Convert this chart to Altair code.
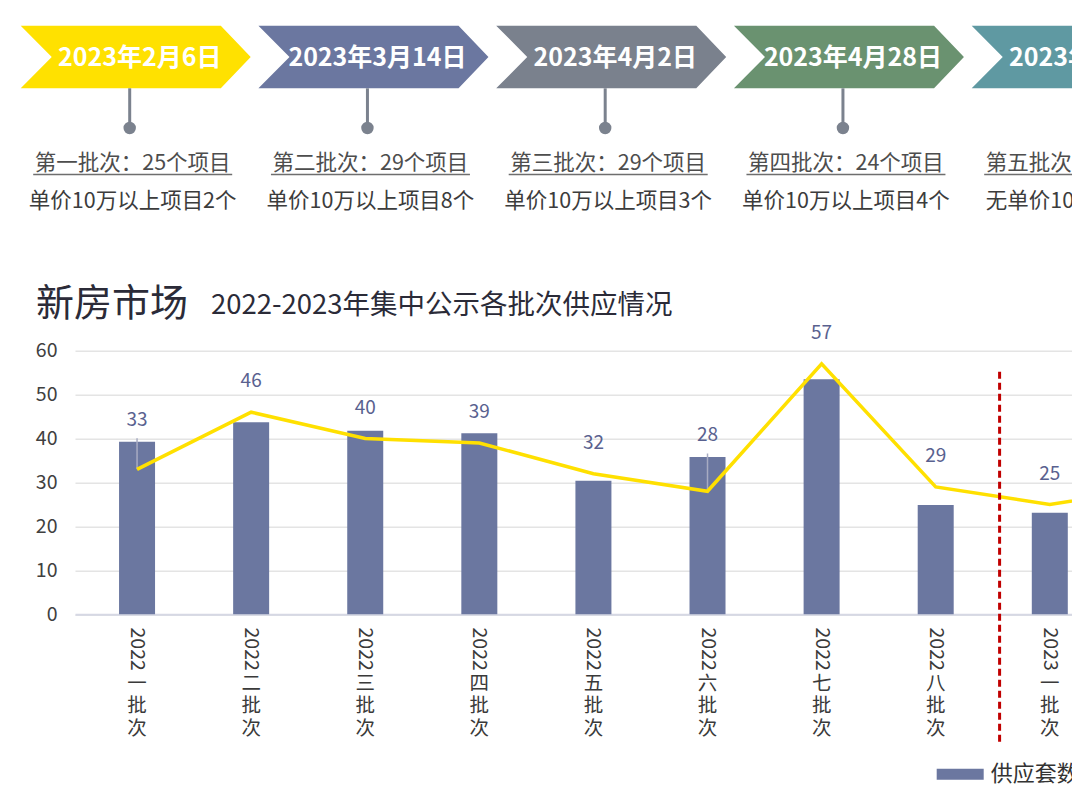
import altair as alt
import pandas as pd

# ---------------- data ----------------
categories = ["2022一批次", "2022二批次", "2022三批次", "2022四批次", "2022五批次",
              "2022六批次", "2022七批次", "2022八批次", "2023一批次", "2023二批次"]
supply_values = [39.3, 43.7, 41.8, 41.2, 30.4, 35.8, 53.5, 24.9, 23.1, None]
project_counts = [33, 46, 40, 39, 32, 28, 57, 29, 25, 29]
bar_series_name = "供应套数"
y_ticks = [0, 10, 20, 30, 40, 50, 60]

title_main = "新房市场"
title_sub = "2022-2023年集中公示各批次供应情况"

tl_dates = ["2023年2月6日", "2023年3月14日", "2023年4月2日", "2023年4月28日", "2023年5月9日"]
tl_counts = ["第一批次：25个项目", "第二批次：29个项目", "第三批次：29个项目",
             "第四批次：24个项目", "第五批次：15个项目"]
tl_notes = ["单价10万以上项目2个", "单价10万以上项目8个", "单价10万以上项目3个",
            "单价10万以上项目4个", "无单价10万以上项目"]

divider_position = 7.56

# ---------------- styles ----------------
FONT = "Noto Sans CJK SC"
BAR_COLOR = "#6B77A0"
LINE_COLOR = "#FFE000"
LABEL_COLOR = "#59618F"
TL_COLORS = ["#FFE100", "#6B77A0", "#7A818D", "#6A9270", "#5F99A2"]
STEM_COLOR = "#7B828E"
W, H = 997, 263.6
STEP_MAIN = 115.25
STEP_TL = 237.75
TOP = 350.7  # page y of plot top (used to place decorative rows)
CHEVRON = "M-1,-0.272L0.74,-0.272L1,0L0.74,0.272L-1,0.272L-0.73,0Z"

main_df = pd.DataFrame({
    "cat": categories,
    "i": list(range(len(categories))),
    "bar": supply_values,
    "line": project_counts,
})
main_df["series"] = bar_series_name
main_df["year"] = main_df["cat"].str[:4]
main_df["batch"] = main_df["cat"].str[4:].apply(lambda s: "\n".join(list(s)))

tl_df = pd.DataFrame({"i": list(range(len(tl_dates))), "date": tl_dates,
                      "count": tl_counts, "note": tl_notes})

X_MAIN = alt.Scale(domain=[-0.5, -0.5 + W / STEP_MAIN], nice=False, zero=False)
Y_MAIN = alt.Scale(domain=[0, 60], nice=False, zero=False)
x_axis = alt.Axis(labels=False, ticks=False, grid=False, title=None,
                  domainColor="#D6D8E4", domainWidth=2)
y_axis = alt.Axis(values=y_ticks, domain=False, ticks=False, title=None,
                  labelFontSize=19.5, labelColor="#404040", labelPadding=18,
                  gridColor="#E4E4E4", gridWidth=1.5, labelFont=FONT)
x_enc = alt.X("i:Q", scale=X_MAIN, axis=x_axis)

bars = alt.Chart(main_df).mark_bar(size=36).encode(
    x=x_enc,
    y=alt.Y("bar:Q", scale=Y_MAIN, axis=y_axis),
    color=alt.Color("series:N",
                    scale=alt.Scale(domain=[bar_series_name], range=[BAR_COLOR]),
                    legend=alt.Legend(title=None, orient="none", legendX=861.7, legendY=400,
                                      symbolType="M-1,-0.234L1,-0.234L1,0.234L-1,0.234Z",
                                      symbolSize=2209, symbolStrokeWidth=0,
                                      labelFontSize=22, labelColor="#333333",
                                      labelOffset=7, padding=0, labelFont=FONT)),
)

labeled = alt.Chart(main_df).transform_calculate(
    lifted="isValid(datum.bar) && datum.bar - datum.line > 3"
).transform_calculate(
    label_y="datum.lifted ? datum.bar + 5 : datum.line + 7"
).transform_calculate(
    lead_top="datum.label_y - 4.2"
)

leaders = labeled.transform_filter("datum.lifted").mark_rule(
    color="#A7ABC2", strokeWidth=1.5).encode(
    x=x_enc, y=alt.Y("line:Q", scale=Y_MAIN, axis=y_axis), y2="lead_top:Q")

line = alt.Chart(main_df).mark_line(color=LINE_COLOR, strokeWidth=3.5).encode(
    x=x_enc, y=alt.Y("line:Q", scale=Y_MAIN, axis=y_axis))

labels = labeled.mark_text(fontSize=19, color=LABEL_COLOR, baseline="middle").encode(
    x=x_enc, y=alt.Y("label_y:Q", scale=Y_MAIN, axis=y_axis), text="line:Q")

xyear = alt.Chart(main_df).mark_text(angle=90, align="left", baseline="middle",
                                     fontSize=19.5, color="#3A3A3A").encode(
    x=x_enc, y=alt.value(H + 13.2), text="year:N")

xbatch = alt.Chart(main_df).mark_text(lineBreak="\n", lineHeight=22.5, align="center",
                                      baseline="middle", fontSize=19.5,
                                      color="#3A3A3A").encode(
    x=x_enc, y=alt.value(H + 69.5), text="batch:N")

divider = alt.Chart(pd.DataFrame({"pos": [divider_position]})).mark_rule(
    color="#C00000", strokeWidth=3, strokeDash=[7, 4]).encode(
    x=alt.X("pos:Q", scale=X_MAIN, axis=x_axis),
    y=alt.value(371.7 - TOP), y2=alt.value(741.7 - TOP))

main = alt.layer(bars, leaders, line, labels, divider, xyear, xbatch)

# ---------------- timeline ----------------
X_TL = alt.Scale(domain=[-0.2553, -0.2553 + W / STEP_TL], nice=False, zero=False)
x_tl = alt.X("i:Q", scale=X_TL, axis=None)

chevrons = alt.Chart(tl_df).mark_point(shape=CHEVRON, size=52900, filled=True,
                                       opacity=1, strokeWidth=0).encode(
    x=x_tl, y=alt.value(57 - TOP),
    fill=alt.Fill("date:N", scale=alt.Scale(domain=tl_dates, range=TL_COLORS), legend=None))

dates = alt.Chart(tl_df).mark_text(color="white", fontSize=25, fontWeight="bold",
                                   dx=4, baseline="middle").encode(
    x=x_tl, y=alt.value(58 - TOP), text="date:N")

stems = alt.Chart(tl_df).mark_rule(color=STEM_COLOR, strokeWidth=3, xOffset=-6).encode(
    x=x_tl, y=alt.value(88.3 - TOP), y2=alt.value(128 - TOP))

dots = alt.Chart(tl_df).mark_circle(color=STEM_COLOR, size=154, opacity=1, xOffset=-6).encode(
    x=x_tl, y=alt.value(128 - TOP))

counts = alt.Chart(tl_df).mark_text(fontSize=21.5, color="#4D4D4D", dx=-3,
                                    baseline="middle").encode(
    x=x_tl, y=alt.value(164 - TOP), text="count:N")

underline = alt.Chart(tl_df).mark_rule(color="#6E6E6E", strokeWidth=1.5,
                                       xOffset=-102.5, x2Offset=96.5).encode(
    x=x_tl, x2="i:Q", y=alt.value(174.5 - TOP))

notes = alt.Chart(tl_df).mark_text(fontSize=21.5, color="#3C3C3C", dx=-3,
                                   baseline="middle").encode(
    x=x_tl, y=alt.value(202 - TOP), text="note:N")

timeline = alt.layer(chevrons, dates, stems, dots, counts, underline, notes)

# ---------------- header ----------------
head = alt.Chart(pd.DataFrame({"t": [title_main]})).mark_text(
    align="left", baseline="alphabetic", fontSize=38, color="#2B2B38").encode(
    x=alt.value(36 - 75), y=alt.value(316 - TOP), text="t:N")
sub = alt.Chart(pd.DataFrame({"t": [title_sub]})).mark_text(
    align="left", baseline="alphabetic", fontSize=27.5, color="#2B2B38").encode(
    x=alt.value(211 - 75), y=alt.value(314 - TOP), text="t:N")
header = alt.layer(head, sub)

chart = alt.layer(main, timeline, header).resolve_scale(x="independent").properties(
    width=W, height=H,
    autosize=alt.AutoSizeParams(type="none"),
    padding={"left": 67, "top": TOP - 8, "right": 0, "bottom": 170},
).configure(font=FONT).configure_view(strokeWidth=0)

chart.save("out.html", embed_options={"renderer": "svg", "actions": False})
